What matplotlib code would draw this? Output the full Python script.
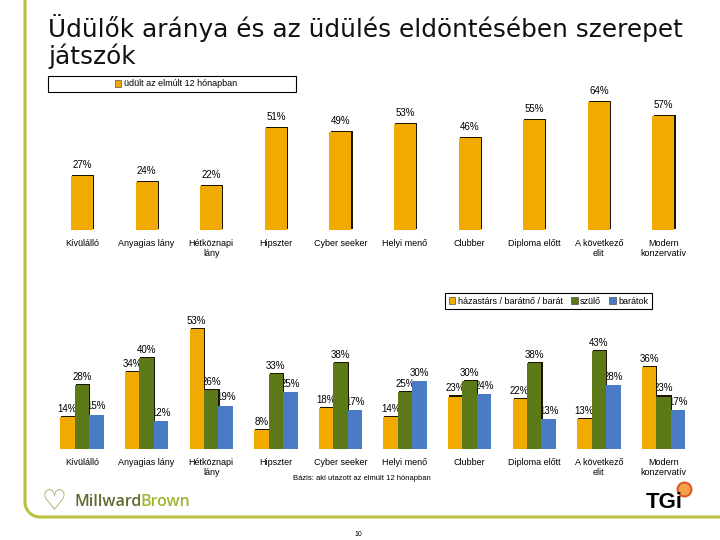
# -*- coding: UTF-8 -*-
import numpy as np
import matplotlib.pyplot as plt
import matplotlib.patheffects as pe
from matplotlib.patches import Rectangle
from matplotlib.lines import Line2D

plt.rcParams['font.family'] = ['Liberation Sans', 'DejaVu Sans']

categories = ['Kívülálló', 'Anyagias lány', 'Hétköznapi\nlány', 'Hipszter', 'Cyber seeker',
              'Helyi menő', 'Clubber', 'Diploma előtt', 'A következő\nelit', 'Modern\nkonzervatív']
udult = [27, 24, 22, 51, 49, 53, 46, 55, 64, 57]
partner = [14, 34, 53, 8, 18, 14, 23, 22, 13, 36]
szulo = [28, 40, 26, 33, 38, 25, 30, 38, 43, 23]
baratok = [15, 12, 19, 25, 17, 30, 24, 13, 28, 17]

top_label = 'üdült az elmúlt 12 hónapban'
series_labels = ['házastárs / barátnő / barát', 'szülő', 'barátok']

orange = '#F0AA00'
green = '#5B7A17'
blue = '#4A7CC6'
olive = '#B9C23E'

W, H = 720, 540


def fr(x0, y0, x1, y1):
    # pixel box (origin top-left) -> figure rect
    return [x0 / W, 1 - y1 / H, (x1 - x0) / W, (y1 - y0) / H]


def fx(px):
    return px / W


def fy(py):
    return 1 - py / H


shadow = [pe.SimplePatchShadow(offset=(0.8, 0.8), shadow_rgbFace='#1a1400', alpha=1), pe.Normal()]

fig = plt.figure(figsize=(7.2, 5.4), dpi=100)
x = np.arange(len(categories))
xl = (-0.65, 9.72)

# top chart
ax1 = fig.add_axes(fr(40, 95, 710, 230))
bars = ax1.bar(x, udult, width=0.34, color=orange, zorder=3)
for b in bars:
    b.set_path_effects(shadow)
for xi, v in zip(x, udult):
    ax1.text(xi, v + 5.5, f'{v}%', ha='center', va='center', fontsize=7, zorder=1)
ax1.set_xlim(xl)
ax1.set_ylim(0, 67.5)

# bottom chart
ax2 = fig.add_axes(fr(40, 320, 710, 448.5))
w = 0.224
for off, vals, col, sh in [(-w, partner, orange, True), (0, szulo, green, True), (w, baratok, blue, False)]:
    bb = ax2.bar(x + off, vals, width=w, color=col, zorder=3)
    if sh:
        for b in bb:
            b.set_path_effects(shadow)
    for xi, v in zip(x + off, vals):
        ax2.text(xi, v + 3.6, f'{v}%', ha='center', va='center', fontsize=7, zorder=1)
ax2.set_xlim(xl)
ax2.set_ylim(0, 56.9)

for ax in (ax1, ax2):
    ax.set_xticks(x, categories)
    ax.tick_params(axis='x', length=0, pad=6.5, labelsize=6.5)
    ax.set_yticks([])
    for s in ax.spines.values():
        s.set_visible(False)
    ax.patch.set_visible(False)

# legends
h_top = [Rectangle((0, 0), 1, 1, facecolor=orange, edgecolor='#333333', lw=0.4)]
fig.legend(h_top, [top_label], loc='center', bbox_to_anchor=(fx(176), fy(84)), frameon=False,
           fontsize=6.5, handlelength=0.7, handleheight=0.7, handletextpad=0.3)
fig.add_artist(Rectangle((fx(48), fy(92)), fx(296) - fx(48), (92 - 76) / H, transform=fig.transFigure,
                         fill=False, edgecolor='black', lw=0.8))

h_bot = [Rectangle((0, 0), 1, 1, facecolor=c, edgecolor='#333333', lw=0.4) for c in (orange, green, blue)]
lg = fig.legend(h_bot, series_labels, ncol=3, loc='upper right', bbox_to_anchor=(fx(652), fy(293)),
                borderaxespad=0, frameon=True, fancybox=False, edgecolor='black', framealpha=1, fontsize=6.5,
                borderpad=0.4, columnspacing=0.9, handlelength=0.7, handleheight=0.7, handletextpad=0.3)
lg.get_frame().set_linewidth(0.8)

# title
fig.text(fx(48), fy(14), 'Üdülők aránya és az üdülés eldöntésében szerepet\njátszók', ha='left', va='top',
         fontsize=17.8, family='DejaVu Sans', linespacing=1.07, color='#111111')

# slide frame
r = 15
t = np.linspace(np.pi, np.pi / 2, 20)
px = np.concatenate([[25], 40 + r * np.cos(t), [720]])
py = np.concatenate([[0], 502 + r * np.sin(t), [517]])
fig.add_artist(Line2D(fx(px), fy(py), transform=fig.transFigure, color=olive, lw=2.2))

# footer
fig.text(fx(362), fy(479), 'Bázis: aki utazott az elmúlt 12 hónapban', ha='center', va='center', fontsize=5.5)
fig.text(fx(358), fy(534), '10', ha='center', va='center', fontsize=5)
fig.text(fx(42), fy(502), '♡', ha='left', va='center', fontsize=20, color='#8A9A3A', family='DejaVu Sans',
         fontweight='bold')
fig.text(fx(75), fy(502), 'Millward', ha='left', va='center', fontsize=11.5, color='#5E6B2F',
         family='Open Sans', fontweight='semibold')
fig.text(fx(141), fy(502), 'Brown', ha='left', va='center', fontsize=11.5, color='#A3B334',
         family='Open Sans', fontweight='semibold')
fig.text(fx(646), fy(502), 'TGi', ha='left', va='center', fontsize=16, color='black', fontweight='bold',
         family='Liberation Sans')
fig.add_artist(Line2D([fx(684)], [fy(489)], marker='o', markersize=10, mfc='#F4A24A', mec='#E05A20', mew=1.5,
                      transform=fig.transFigure))

plt.savefig('out.png', dpi=100)
